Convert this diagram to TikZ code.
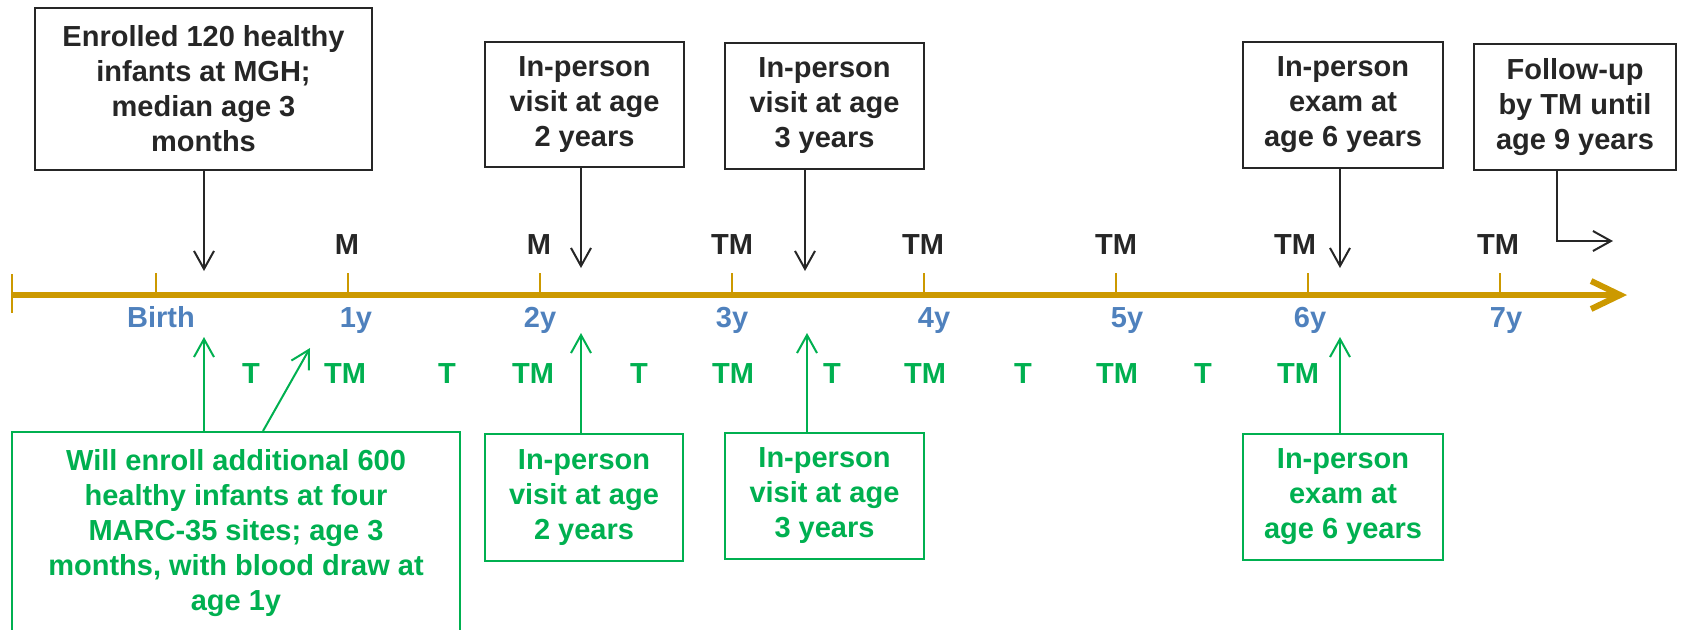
\documentclass[tikz,border=0pt]{standalone}
\usepackage{fontspec}
\setmainfont{Liberation Sans}
\usetikzlibrary{arrows.meta,positioning}
\definecolor{ink}{HTML}{262626}
\definecolor{grn}{HTML}{00B050}
\definecolor{yrblue}{HTML}{4F81BD}
\definecolor{gold}{HTML}{CC9900}

\begin{document}
\begin{tikzpicture}[x=0.5pt,y=-0.5pt,
	txt/.style={font=\fontsize{14.5}{17.5}\selectfont\bfseries},
	lbl/.style={txt,inner sep=0pt,anchor=base},
	box/.style={txt,draw=ink,text=ink,line width=1pt,align=center,inner sep=0pt},
	gbox/.style={box,draw=grn,text=grn},
	darr/.style={color=ink,line width=1pt,-{Straight Barb[length=9pt,width=10pt]}},
	garr/.style={darr,color=grn}]
	\useasboundingbox (0,0) rectangle (1681,629);
	\clip (0,0) rectangle (1681,629);
	% timeline
	\coordinate (tl0) at (12,295);
	\coordinate (tlend) at (1627,295);
	\draw[gold,line width=3pt,-{Straight Barb[length=14.5pt,width=14pt]}] (tl0) -- (tlend);
	\draw[gold,line width=1pt] (12,274) -- (12,313);
	\foreach \x in {156,348,...,1500}
		\draw[gold,line width=1pt] (\x,273) -- (\x,295);
	\foreach \x/\t [count=\i] in {161/Birth,356/1y,540/2y,732/3y,934/4y,1127/5y,1310/6y,1506/7y}
		\node[lbl,yrblue] (yr\i) at (\x,327) {\t};
	\foreach \x/\t [count=\i] in {347/M,539/M,732/TM,923/TM,1116/TM,1295/TM,1498/TM}
		\node[lbl,ink] (up\i) at (\x,254) {\t};
	\foreach \x/\t [count=\i] in {251/T,345/TM,447/T,533/TM,639/T,733/TM,832/T,925/TM,1023/T,1117/TM,1203/T,1298/TM}
		\node[lbl,grn] (dn\i) at (\x,383) {\t};
	% boxes above
	\node[box,minimum width=168.5pt,minimum height=81pt] (enr120) at (203.5,89) {Enrolled 120 healthy\\infants at MGH;\\median age 3\\months};
	\node[box,minimum width=99.5pt,minimum height=62.5pt] (v2) at (584.5,104.5) {In-person\\visit at age\\2 years};
	\node[box,minimum width=99.5pt,minimum height=63pt] (v3) at (824.5,106) {In-person\\visit at age\\3 years};
	\node[box,minimum width=100pt,minimum height=63pt] (e6) at (1343,105) {In-person\\exam at\\age 6 years};
	\node[box,minimum width=101pt,minimum height=63pt] (fu9) at (1575,107) {Follow-up\\by TM until\\age 9 years};
	% boxes below
	\node[gbox,minimum width=224pt,inner ysep=8.5pt,text depth=60pt,anchor=north] (enr600) at (236,431) {Will enroll additional 600\\healthy infants at four\\MARC-35 sites; age 3\\months, with blood draw at\\age 1y};
	\node[gbox,minimum width=99pt,minimum height=63.5pt] (g2) at (584,497.5) {In-person\\visit at age\\2 years};
	\node[gbox,minimum width=99.5pt,minimum height=63pt] (g3) at (824.5,496) {In-person\\visit at age\\3 years};
	\node[gbox,minimum width=100pt,minimum height=63pt] (g6) at (1343,497) {In-person\\exam at\\age 6 years};
	\coordinate (a0) at (204,271);
	\coordinate (a2) at (581,268);
	\coordinate (a3) at (805,271);
	\coordinate (a6) at (1340,268);
	\coordinate (fu) at (1557,241);
	\coordinate (fuend) at (1613,241);
	\coordinate (b0) at (204,337);
	\coordinate (b1) at (310,348);
	\coordinate (b1s) at (263,0);
	\coordinate (b2) at (581,333);
	\coordinate (b3) at (807,333);
	\coordinate (b6) at (1340,337);
	\path[darr]
	(enr120.south -| a0) edge (a0)
	(v2.south -| a2) edge (a2)
	(v3.south -| a3) edge (a3)
	(e6.south -| a6) edge (a6);
	\draw[darr] (fu9.south -| fu) -- (fu) -- (fuend);
	\path[garr]
	(enr600.north -| b0) edge (b0)
	(enr600.north -| b1s) edge (b1)
	(g2.north -| b2) edge (b2)
	(g3.north -| b3) edge (b3)
	(g6.north -| b6) edge (b6);
\end{tikzpicture}
\end{document}
